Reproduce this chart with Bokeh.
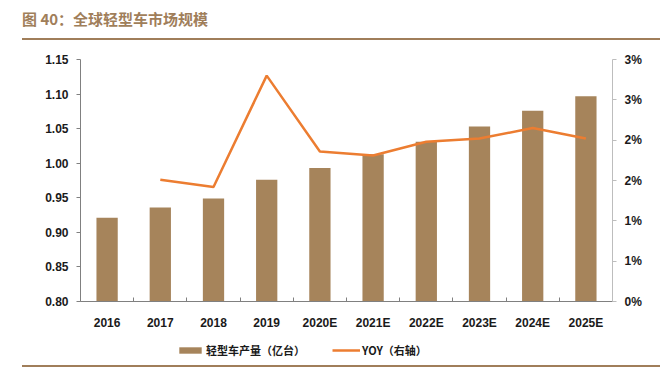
from bokeh.plotting import figure
from bokeh.models import (Range1d, LinearAxis, FixedTicker, Legend, LegendItem,
                          Div, ColumnDataSource)
from bokeh.layouts import column
from bokeh.embed import file_html
from bokeh.resources import INLINE

categories = ["2016", "2017", "2018", "2019", "2020E", "2021E", "2022E", "2023E", "2024E", "2025E"]
production = [0.921, 0.936, 0.949, 0.976, 0.993, 1.013, 1.031, 1.053, 1.076, 1.097]
yoy_cats = ["2017", "2018", "2019", "2020E", "2021E", "2022E", "2023E", "2024E", "2025E"]
yoy = [0.0151, 0.0142, 0.0280, 0.0186, 0.0181, 0.0198, 0.0202, 0.0215, 0.0202]
left_ticks = [0.80, 0.85, 0.90, 0.95, 1.00, 1.05, 1.10, 1.15]
right_ticks = [0.0, 0.005, 0.010, 0.015, 0.020, 0.025, 0.030]
right_labels = ["0%", "1%", "1%", "2%", "2%", "3%", "3%"]
title_text = "图 40：全球轻型车市场规模"
bar_label = "轻型车产量（亿台）"
line_label = "YOY（右轴）"

BAR = "#A6845B"
LINE = "#EC7D31"
BROWN = "#A07E5A"

xpos = {c: i + 0.5 for i, c in enumerate(categories)}
bar_src = ColumnDataSource(dict(x=[xpos[c] for c in categories], top=production))
line_src = ColumnDataSource(dict(x=[xpos[c] for c in yoy_cats], y=yoy))

p = figure(width=663, height=292, output_backend="svg", toolbar_location=None,
           x_range=Range1d(0, len(categories)), y_range=Range1d(0.80, 1.15),
           min_border_left=80, min_border_right=51, min_border_top=19, min_border_bottom=28)
p.extra_y_ranges = {"yoy": Range1d(0, 0.03)}
p.outline_line_color = None
p.xgrid.visible = False
p.ygrid.visible = False

bars = p.vbar(x="x", top="top", bottom=0.80, width=0.4, source=bar_src,
              fill_color=BAR, line_color=None)
line = p.line(x="x", y="y", source=line_src, y_range_name="yoy",
              line_color=LINE, line_width=2.5)

font = "Liberation Sans"
xa = p.xaxis[0]
xa.ticker = FixedTicker(ticks=[xpos[c] for c in categories],
                        minor_ticks=list(range(len(categories) + 1)))
xa.major_label_overrides = {xpos[c]: c for c in categories}
xa.major_tick_line_color = None
xa.minor_tick_in = 4
xa.minor_tick_out = 0
xa.minor_tick_line_color = "#808080"
xa.axis_line_color = "#808080"
xa.major_label_text_font = font
xa.major_label_text_font_style = "bold"
xa.major_label_text_font_size = "12px"
xa.major_label_text_color = "#1a1a1a"
xa.major_label_standoff = 8

ya = p.yaxis[0]
ya.ticker = FixedTicker(ticks=left_ticks)
ya.major_label_overrides = {t: f"{t:.2f}" for t in left_ticks}
ya.major_tick_in = 0
ya.major_tick_out = 4
ya.minor_tick_line_color = None
ya.axis_line_color = "#808080"
ya.major_tick_line_color = "#808080"
ya.major_label_text_font = font
ya.major_label_text_font_style = "bold"
ya.major_label_text_font_size = "12px"
ya.major_label_text_color = "#1a1a1a"
ya.major_label_standoff = 8

ra = LinearAxis(y_range_name="yoy", ticker=FixedTicker(ticks=right_ticks))
ra.major_label_overrides = {t: l for t, l in zip(right_ticks, right_labels)}
ra.major_tick_in = 0
ra.major_tick_out = 4
ra.minor_tick_line_color = None
ra.axis_line_color = "#BDBDBD"
ra.major_tick_line_color = "#BDBDBD"
ra.major_label_text_font = font
ra.major_label_text_font_style = "bold"
ra.major_label_text_font_size = "12px"
ra.major_label_text_color = "#1a1a1a"
ra.major_label_standoff = 8
p.add_layout(ra, "right")

# legend strip: a small frame-only figure whose legend reuses the chart's styles
lf = figure(width=663, height=30, output_backend="svg", toolbar_location=None,
            x_range=Range1d(0, 1), y_range=Range1d(0, 1),
            min_border_left=0, min_border_right=0, min_border_top=0, min_border_bottom=0)
lf.axis.visible = False
lf.grid.visible = False
lf.outline_line_color = None
offscreen = ColumnDataSource(dict(x=[-5, -4], top=[-5, -5], y=[-5, -5]))
lb = lf.vbar(x="x", top="top", bottom=-6, width=0.4, source=offscreen,
             fill_color=BAR, line_color=None)
ll = lf.line(x="x", y="y", source=offscreen, line_color=LINE, line_width=2.5)
legend = Legend(items=[LegendItem(label=bar_label, renderers=[lb]),
                       LegendItem(label=line_label, renderers=[ll])],
                orientation="horizontal", location=(96, 4),
                label_text_font="Noto Sans CJK SC", label_text_font_style="bold",
                label_text_font_size="11px", label_text_color="#1a1a1a",
                glyph_width=28, glyph_height=8, spacing=27, padding=0, margin=0,
                label_standoff=2, border_line_color=None, background_fill_alpha=0)
lf.add_layout(legend, "center")

title_div = Div(text=title_text, width=638, height=32, margin=(8, 0, 0, 22),
                styles={"font-family": "Noto Sans CJK SC", "font-weight": "bold",
                        "font-size": "15px", "color": BROWN,
                        "border-bottom": f"2px solid {BROWN}",
                        "box-sizing": "border-box", "padding-top": "0px"})
bottom_div = Div(text="", width=638, height=4, margin=(3, 0, 0, 22),
                 styles={"border-top": f"2px solid {BROWN}", "box-sizing": "border-box"})

layout = column(title_div, p, lf, bottom_div, spacing=0)
open("out.html", "w").write(file_html(layout, INLINE))
